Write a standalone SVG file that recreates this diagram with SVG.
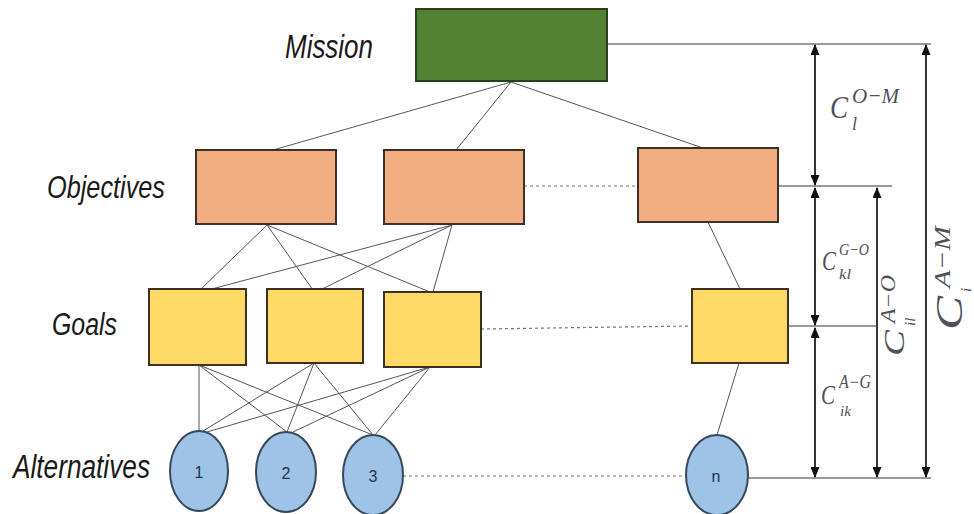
<svg xmlns="http://www.w3.org/2000/svg" width="974" height="514" viewBox="0 0 974 514">
  <style>
    .row { font-family: "Liberation Sans", Arial, sans-serif; font-style: italic; fill: #1a1a1a; }
    .mission { fill: #548235; stroke: #2b3f1f; stroke-width: 2; }
    .obj { fill: #f2ad80; stroke: #3d3027; stroke-width: 2; }
    .goal { fill: #ffd966; stroke: #3a3122; stroke-width: 2; }
    .alt { fill: #9fc3e7; stroke: #34495c; stroke-width: 2; }
    .num { font-family: "Liberation Sans", Arial, sans-serif; font-size: 16px; fill: #1f3350; text-anchor: middle; }
    .link { stroke: #555; stroke-width: 1; fill: none; }
    .dots { stroke: #777; stroke-width: 1.2; stroke-dasharray: 3 3; fill: none; }
    .ref { stroke: #999; stroke-width: 2; fill: none; }
    .dim { stroke: #333; stroke-width: 2; fill: none; marker-start: url(#tip); marker-end: url(#tip); }
    .math { font-family: "Liberation Serif", "DejaVu Serif", serif; font-style: italic; fill: #505058; }
  </style>
  <defs>
    <marker id="tip" markerUnits="userSpaceOnUse" markerWidth="11" markerHeight="9" refX="10" refY="4.5" orient="auto-start-reverse">
      <path d="M0,0 L11,4.5 L0,9 z" fill="#111"/>
    </marker>
  </defs>

  <!-- level labels -->
  <text class="row" x="285" y="58" font-size="33" textLength="88" lengthAdjust="spacingAndGlyphs">Mission</text>
  <text class="row" x="47" y="198" font-size="32" textLength="118" lengthAdjust="spacingAndGlyphs">Objectives</text>
  <text class="row" x="52" y="335" font-size="31" textLength="65" lengthAdjust="spacingAndGlyphs">Goals</text>
  <text class="row" x="13" y="478" font-size="33" textLength="137" lengthAdjust="spacingAndGlyphs">Alternatives</text>

  <!-- connectors -->
  <g id="connectors">
    <!-- mission to objectives -->
    <line class="link" x1="511" y1="82" x2="273" y2="150"/>
    <line class="link" x1="511" y1="82" x2="456" y2="150"/>
    <line class="link" x1="511" y1="82" x2="703" y2="148"/>
    <!-- objectives to goals -->
    <line class="link" x1="267" y1="225" x2="200" y2="290"/>
    <line class="link" x1="267" y1="225" x2="313" y2="290"/>
    <line class="link" x1="267" y1="225" x2="430" y2="292"/>
    <line class="link" x1="452" y1="225" x2="208" y2="290"/>
    <line class="link" x1="452" y1="225" x2="320" y2="290"/>
    <line class="link" x1="452" y1="225" x2="433" y2="292"/>
    <line class="link" x1="708" y1="222" x2="740" y2="289"/>
    <!-- goals to alternatives -->
    <line class="link" x1="199" y1="365" x2="199" y2="431"/>
    <line class="link" x1="199" y1="365" x2="287" y2="432"/>
    <line class="link" x1="199" y1="365" x2="373" y2="435"/>
    <line class="link" x1="314" y1="363" x2="203" y2="431"/>
    <line class="link" x1="314" y1="363" x2="287" y2="432"/>
    <line class="link" x1="314" y1="363" x2="373" y2="435"/>
    <line class="link" x1="430" y1="367" x2="207" y2="432"/>
    <line class="link" x1="430" y1="367" x2="293" y2="432"/>
    <line class="link" x1="430" y1="367" x2="375" y2="435"/>
    <line class="link" x1="739" y1="363" x2="717" y2="435"/>
    <!-- omitted members of each level -->
    <line class="dots" x1="524" y1="186" x2="638" y2="186"/>
    <line class="dots" x1="481" y1="329" x2="692" y2="326"/>
    <line class="dots" x1="403" y1="476" x2="686" y2="476"/>
    <!-- level reference lines -->
    <line class="ref" x1="607" y1="44" x2="931" y2="44"/>
    <line class="ref" x1="778" y1="186" x2="892" y2="186"/>
    <line class="ref" x1="788" y1="326" x2="877" y2="326"/>
    <line class="ref" x1="748" y1="478" x2="931" y2="478"/>
    <!-- distance arrows -->
    <line class="dim" x1="815" y1="45" x2="815" y2="185"/>
    <line class="dim" x1="815" y1="188" x2="815" y2="325"/>
    <line class="dim" x1="815" y1="328" x2="815" y2="477"/>
    <line class="dim" x1="877" y1="188" x2="877" y2="477"/>
    <line class="dim" x1="926" y1="45" x2="926" y2="477"/>
  </g>

  <!-- nodes -->
  <g id="mission"><rect class="mission" x="416" y="9" width="191" height="72"/></g>
  <g id="objective-1"><rect class="obj" x="196" y="150" width="140" height="74"/></g>
  <g id="objective-2"><rect class="obj" x="384" y="150" width="140" height="74"/></g>
  <g id="objective-l"><rect class="obj" x="638" y="148" width="140" height="74"/></g>
  <g id="goal-1"><rect class="goal" x="149" y="289" width="97" height="76"/></g>
  <g id="goal-2"><rect class="goal" x="267" y="289" width="96" height="74"/></g>
  <g id="goal-3"><rect class="goal" x="384" y="292" width="97" height="75"/></g>
  <g id="goal-k"><rect class="goal" x="692" y="289" width="96" height="74"/></g>
  <g id="alternative-1"><ellipse class="alt" cx="199" cy="471" rx="29" ry="40"/><text class="num" x="199" y="478">1</text></g>
  <g id="alternative-2"><ellipse class="alt" cx="286" cy="472" rx="30" ry="40"/><text class="num" x="286" y="479">2</text></g>
  <g id="alternative-3"><ellipse class="alt" cx="373" cy="475" rx="30" ry="40"/><text class="num" x="373" y="482">3</text></g>
  <g id="alternative-n"><ellipse class="alt" cx="717" cy="475" rx="31" ry="40"/><text class="num" x="716" y="482">n</text></g>

  <!-- distance labels -->
  <g id="label-om">
    <text class="math" x="830" y="118" font-size="32" textLength="18" lengthAdjust="spacingAndGlyphs">C</text>
    <text class="math" x="852" y="103" font-size="22" textLength="47" lengthAdjust="spacingAndGlyphs">O−M</text>
    <text class="math" x="852" y="130" font-size="18">l</text>
  </g>
  <g id="label-go">
    <text class="math" x="822" y="270" font-size="28" textLength="14" lengthAdjust="spacingAndGlyphs">C</text>
    <text class="math" x="839" y="255" font-size="17" textLength="30" lengthAdjust="spacingAndGlyphs">G−O</text>
    <text class="math" x="839" y="279" font-size="14" textLength="12" lengthAdjust="spacingAndGlyphs">kl</text>
  </g>
  <g id="label-ag">
    <text class="math" x="821" y="404" font-size="28" textLength="14" lengthAdjust="spacingAndGlyphs">C</text>
    <text class="math" x="839" y="388" font-size="18" textLength="32" lengthAdjust="spacingAndGlyphs">A−G</text>
    <text class="math" x="840" y="416" font-size="14" textLength="11" lengthAdjust="spacingAndGlyphs">ik</text>
  </g>
  <g id="label-ao" transform="translate(904,356) rotate(-90)">
    <text class="math" x="0" y="0" font-size="30" textLength="26" lengthAdjust="spacingAndGlyphs">C</text>
    <text class="math" x="33" y="-9" font-size="20" textLength="48" lengthAdjust="spacingAndGlyphs">A−O</text>
    <text class="math" x="30" y="11" font-size="15">il</text>
  </g>
  <g id="label-am" transform="translate(962,330) rotate(-90)">
    <text class="math" x="0" y="0" font-size="38" textLength="34" lengthAdjust="spacingAndGlyphs">C</text>
    <text class="math" x="42" y="-12" font-size="24" textLength="62" lengthAdjust="spacingAndGlyphs">A−M</text>
    <text class="math" x="38" y="9" font-size="15">i</text>
  </g>
</svg>
